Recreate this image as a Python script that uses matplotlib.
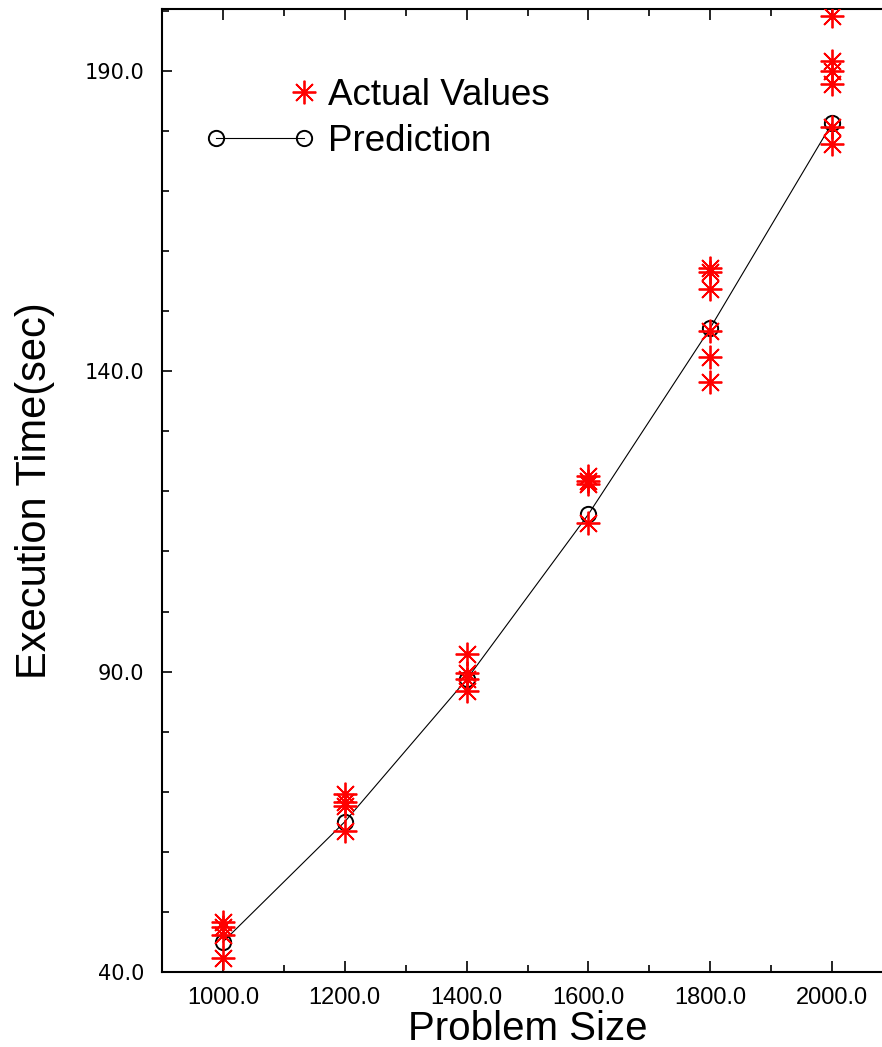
import numpy as np
import matplotlib
matplotlib.use("Agg")
import matplotlib.pyplot as plt
from matplotlib.legend_handler import HandlerLine2D
from matplotlib.ticker import MultipleLocator

# ---- data ----
problem_sizes = [1000, 1200, 1400, 1600, 1800, 2000]
prediction = [45.0, 65.0, 88.7, 116.2, 147.2, 181.3]

actual_x = [1000, 1000, 1000, 1000,
            1200, 1200, 1200, 1200,
            1400, 1400, 1400, 1400,
            1600, 1600, 1600, 1600,
            1800, 1800, 1800, 1800, 1800, 1800,
            2000, 2000, 2000, 2000, 2000, 2000]
actual_y = [48.3, 47.5, 46.2, 42.3,
            69.7, 68.3, 67.7, 63.5,
            93.0, 89.8, 88.7, 86.7,
            122.5, 121.7, 121.2, 114.7,
            157.2, 156.5, 153.7, 146.7, 142.3, 138.2,
            199.2, 191.7, 190.0, 187.8, 180.7, 177.8]

x_ticks = [1000, 1200, 1400, 1600, 1800, 2000]
x_tick_labels = ["1000.0", "1200.0", "1400.0", "1600.0", "1800.0", "2000.0"]
y_ticks = [40, 90, 140, 190]
y_tick_labels = ["40.0", "90.0", "140.0", "190.0"]

W, H = 882, 1047
fig = plt.figure(figsize=(W / 100, H / 100), dpi=100)
ax = fig.add_axes([162 / W, 75 / H, 731 / W, 963 / H])

star = (8, 2, 0)
ax.plot(problem_sizes, prediction, color="black", lw=0.8, marker="o",
        markersize=11, markerfacecolor="none", markeredgecolor="black",
        markeredgewidth=1.4, zorder=3, label="Prediction")
ax.plot(actual_x, actual_y, linestyle="none", marker=star, markersize=17,
        markeredgecolor="red", markeredgewidth=1.3, color="red", zorder=4,
        label="Actual Values")
ax.plot(actual_x, actual_y, linestyle="none", marker="o", markersize=3.5,
        markeredgecolor="none", markerfacecolor="red", zorder=4)

ax.set_xlim(900, 2100)
ax.set_ylim(40, 200.3)

ax.set_xticks(x_ticks)
ax.set_xticklabels(x_tick_labels, fontfamily="Liberation Sans", fontsize=17)
ax.set_yticks(y_ticks)
ax.set_yticklabels(y_tick_labels, fontfamily="DejaVu Sans", fontsize=15)
ax.xaxis.set_minor_locator(MultipleLocator(100))
ax.yaxis.set_minor_locator(MultipleLocator(10))

ax.tick_params(axis="x", which="both", direction="in", top=True, bottom=True,
               width=1.2, pad=11)
ax.tick_params(axis="x", which="major", length=8)
ax.tick_params(axis="x", which="minor", length=5)
ax.tick_params(axis="y", which="both", direction="in", left=True, right=False,
               width=1.2, pad=13)
ax.tick_params(axis="y", which="major", length=7.5)
ax.tick_params(axis="y", which="minor", length=5)

for s in ["left", "top", "bottom", "right"]:
    ax.spines[s].set_linewidth(1.5)

ax.set_xlabel("Problem Size", fontfamily="Liberation Sans", fontsize=29)
ax.xaxis.set_label_coords(0.5, -0.039)
ax.set_ylabel("Execution Time(sec)", fontfamily="Liberation Sans", fontsize=30)
ax.yaxis.set_label_coords(-0.147, 0.5)


class EndMarkerHandler(HandlerLine2D):
    """Single marker drawn at the right end of the handle area."""
    def get_xdata(self, legend, xdescent, ydescent, width, height, fontsize):
        pad = self._marker_pad * fontsize
        t = -xdescent + width - pad
        return np.array([t - 0.5, t + 0.5]), np.array([t])


handles, labels = ax.get_legend_handles_labels()
order = [1, 0]
leg = ax.legend([handles[i] for i in order], [labels[i] for i in order],
                loc="upper left", bbox_to_anchor=(0.0588, 0.928),
                frameon=False, numpoints=2, borderpad=0, borderaxespad=0,
                handlelength=3.0, handletextpad=0.35, labelspacing=0.3,
                prop={"family": "Liberation Sans", "size": 26.5},
                handler_map={handles[1]: EndMarkerHandler(numpoints=1)})

fig.savefig("out.png", dpi=100)
